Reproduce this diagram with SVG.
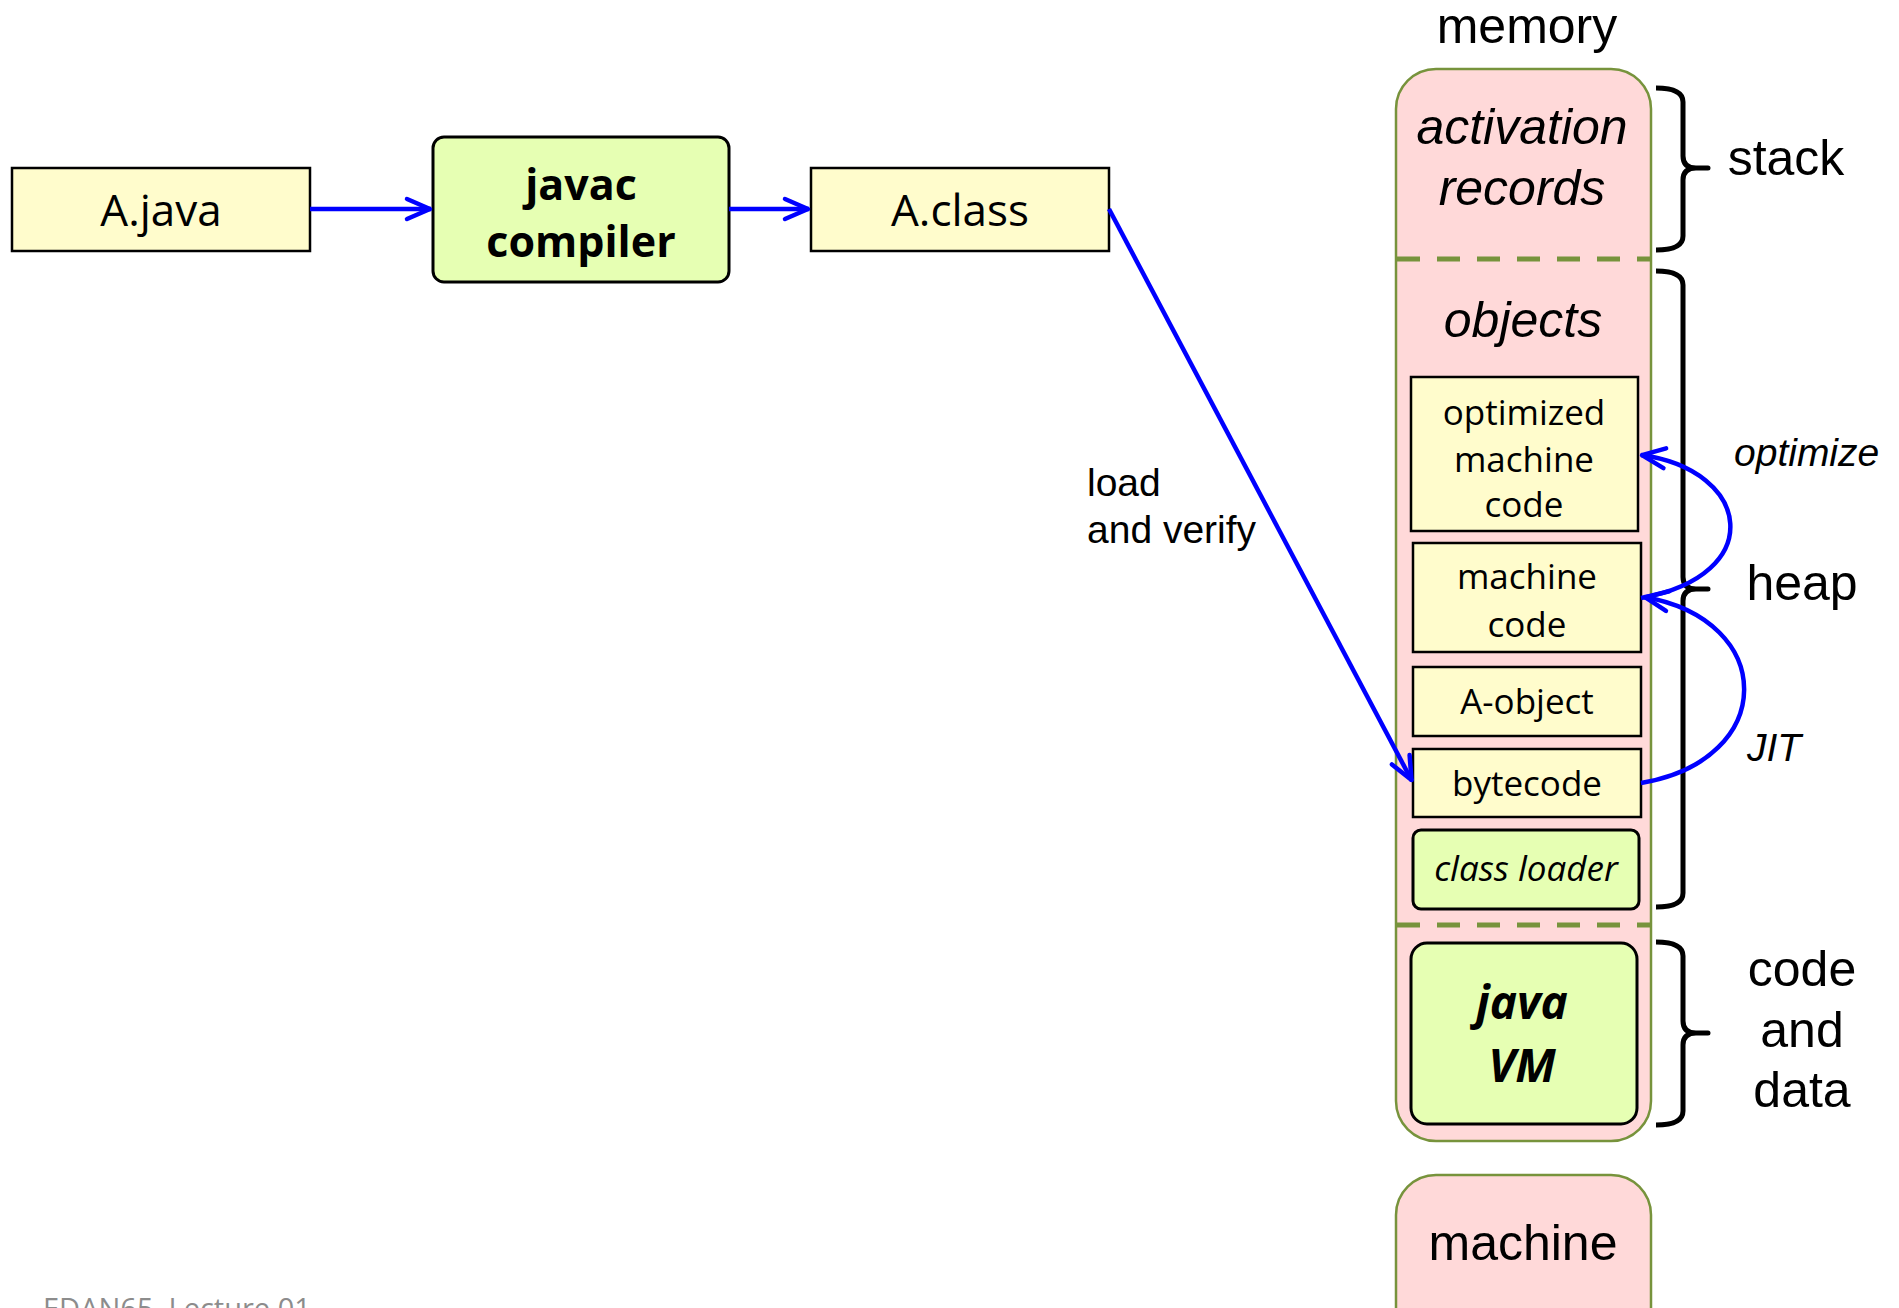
<svg xmlns="http://www.w3.org/2000/svg" width="1899" height="1308" viewBox="0 0 1899 1308">
<style>
.box{fill:#fffccc;stroke:#000;stroke-width:2.5}
.gbox{fill:#e6ffb3;stroke:#000;stroke-width:3}
.mem{fill:#ffd9d9;stroke:#77933c;stroke-width:2.5}
.dash{stroke:#77933c;stroke-width:5;stroke-dasharray:23 17;fill:none}
.brace{fill:none;stroke:#000;stroke-width:5;stroke-linejoin:round;stroke-linecap:butt}
.conn{fill:none;stroke:#0000ff;stroke-width:4.5}
.cal{font-family:"Open Sans","Noto Sans",sans-serif;fill:#000;text-anchor:middle}
.ari{font-family:"Liberation Sans",Arial,sans-serif;fill:#000;text-anchor:middle}
</style>
<defs>
<marker id="ah" markerUnits="userSpaceOnUse" markerWidth="60" markerHeight="60" viewBox="-30 -30 60 60" refX="1" refY="0" orient="auto" overflow="visible">
<path d="M-23,-10 L0,0 L-23,10" fill="none" stroke="#0000ff" stroke-width="4.5" stroke-linecap="round" stroke-linejoin="round"/>
</marker>
</defs>
<rect width="1899" height="1308" fill="#fff"/>

<g id="A_java">
<rect class="box" x="12" y="168" width="298" height="83"/>
<text class="cal" x="161" y="226" font-size="44">A.java</text>
</g>
<g id="javac">
<rect class="gbox" x="433" y="137" width="296" height="145" rx="11"/>
<text class="cal" x="581" y="200" font-size="43" font-weight="bold">javac</text>
<text class="cal" x="581" y="257" font-size="43" font-weight="bold">compiler</text>
</g>
<g id="A_class">
<rect class="box" x="811" y="168" width="298" height="83"/>
<text class="cal" x="960" y="226" font-size="44">A.class</text>
</g>

<g id="memory">
<text class="ari" x="1527" y="43" font-size="50">memory</text>
<rect class="mem" x="1396" y="69" width="255" height="1072" rx="40"/>
<line class="dash" x1="1397" y1="259" x2="1650" y2="259"/>
<line class="dash" x1="1397" y1="925" x2="1650" y2="925"/>
<text class="ari" x="1522" y="144" font-size="50" font-style="italic">activation</text>
<text class="ari" x="1522" y="205" font-size="50" font-style="italic">records</text>
<text class="ari" x="1523" y="337" font-size="50" font-style="italic">objects</text>
</g>

<g id="optimized">
<rect class="box" x="1411" y="377" width="227" height="154"/>
<text class="cal" x="1524" y="425" font-size="35">optimized</text>
<text class="cal" x="1524" y="472" font-size="35">machine</text>
<text class="cal" x="1524" y="517" font-size="35">code</text>
</g>
<g id="machine_code">
<rect class="box" x="1413" y="543" width="228" height="109"/>
<text class="cal" x="1527" y="589" font-size="35">machine</text>
<text class="cal" x="1527" y="637" font-size="35">code</text>
</g>
<g id="A_object">
<rect class="box" x="1413" y="667" width="228" height="69"/>
<text class="cal" x="1527" y="714" font-size="35">A-object</text>
</g>
<g id="bytecode">
<rect class="box" x="1413" y="749" width="228" height="68"/>
<text class="cal" x="1527" y="796" font-size="35">bytecode</text>
</g>
<g id="class_loader">
<rect class="gbox" x="1413" y="830" width="226" height="79" rx="8"/>
<text class="cal" x="1526" y="881" font-size="35" font-style="italic">class loader</text>
</g>
<g id="java_vm">
<rect class="gbox" x="1411" y="943" width="226" height="181" rx="16"/>
<text class="cal" x="1522" y="1019" font-size="46" font-weight="bold" font-style="italic">java</text>
<text class="cal" x="1522" y="1082" font-size="46" font-weight="bold" font-style="italic">VM</text>
</g>
<g id="machine">
<rect class="mem" x="1396" y="1175" width="255" height="180" rx="40"/>
<text class="ari" x="1523" y="1260" font-size="50">machine</text>
</g>

<g id="braces">
<path class="brace" d="M1656,88 Q1683,88 1683,102 L1683,156 Q1683,168 1696,168 L1708,168 L1696,168 Q1683,168 1683,180 L1683,236 Q1683,250 1656,250"/>
<path class="brace" d="M1656,271 Q1683,271 1683,285 L1683,577 Q1683,589 1696,589 L1708,589 L1696,589 Q1683,589 1683,601 L1683,893 Q1683,907 1656,907"/>
<path class="brace" d="M1656,942 Q1683,942 1683,956 L1683,1021 Q1683,1033 1696,1033 L1708,1033 L1696,1033 Q1683,1033 1683,1045 L1683,1111 Q1683,1125 1656,1125"/>
<text class="ari" x="1786" y="175" font-size="50">stack</text>
<text class="ari" x="1802" y="600" font-size="50">heap</text>
<text class="ari" x="1802" y="986" font-size="50">code</text>
<text class="ari" x="1802" y="1047" font-size="50">and</text>
<text class="ari" x="1802" y="1107" font-size="50">data</text>
</g>

<g id="connectors">
<path class="conn" d="M310,209 L431,209" marker-end="url(#ah)"/>
<path class="conn" d="M729,209 L809,209" marker-end="url(#ah)"/>
<path class="conn" d="M1109,209 L1412,781" marker-end="url(#ah)"/>
<path class="conn" d="M1641,598 C1768,575 1752,470 1641,455" marker-end="url(#ah)"/>
<path class="conn" d="M1641,783 C1778,760 1778,620 1644,597" marker-end="url(#ah)"/>
<text x="1087" y="496" font-family="Liberation Sans, Arial, sans-serif" font-size="39">load</text>
<text x="1087" y="543" font-family="Liberation Sans, Arial, sans-serif" font-size="39">and verify</text>
<text x="1734" y="466" font-family="Liberation Sans, Arial, sans-serif" font-size="39" font-style="italic">optimize</text>
<text x="1747" y="761" font-family="Liberation Sans, Arial, sans-serif" font-size="39" font-style="italic">JIT</text>
</g>

<text x="43" y="1319" font-family="Open Sans, Noto Sans, sans-serif" font-size="29" fill="#8c8c8c">EDAN65, Lecture 01</text>
</svg>
